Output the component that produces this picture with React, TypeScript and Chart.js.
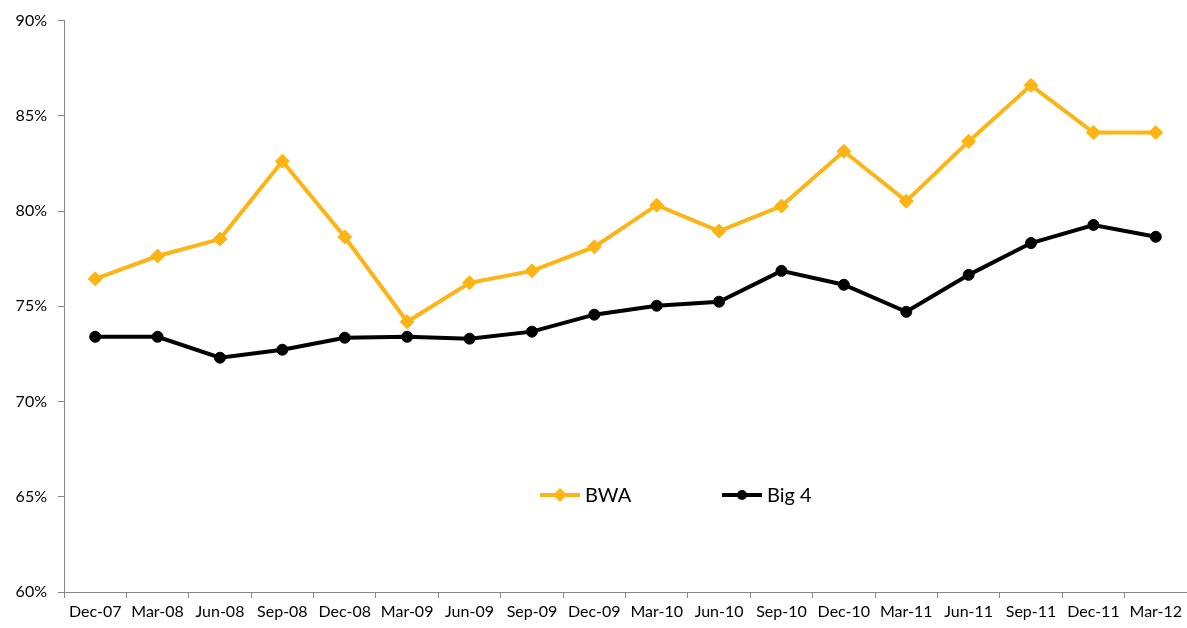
import React, { useEffect, useRef } from "react";
import { Chart, registerables } from "chart.js";

Chart.register(...registerables);

const categories = [
  "Dec-07", "Mar-08", "Jun-08", "Sep-08", "Dec-08", "Mar-09", "Jun-09", "Sep-09", "Dec-09",
  "Mar-10", "Jun-10", "Sep-10", "Dec-10", "Mar-11", "Jun-11", "Sep-11", "Dec-11", "Mar-12",
];
const bwaValues = [
  76.44, 77.64, 78.53, 82.62, 78.64, 74.19, 76.23, 76.86, 78.12,
  80.31, 78.95, 80.26, 83.14, 80.52, 83.66, 86.6, 84.12, 84.12,
];
const big4Values = [
  73.4, 73.4, 72.3, 72.72, 73.35, 73.4, 73.3, 73.67, 74.56,
  75.03, 75.24, 76.86, 76.13, 74.71, 76.65, 78.32, 79.27, 78.65,
];
const seriesNames = ["BWA", "Big 4"];

const ORANGE = "#FDB414";
const BLACK = "#000000";
const AXIS = "#868686";
const FONT = "Lato, 'Open Sans', sans-serif";

const legendPlugin = {
  id: "insideLegend",
  afterDraw(chart: any) {
    const ctx = chart.ctx;
    const y = 495;
    const items = [
      { x: 540, color: ORANGE, style: "rectRot", r: 7, label: seriesNames[0] },
      { x: 722, color: BLACK, style: "circle", r: 5, label: seriesNames[1] },
    ];
    ctx.save();
    for (const it of items) {
      ctx.strokeStyle = it.color;
      ctx.lineWidth = 4;
      ctx.beginPath();
      ctx.moveTo(it.x, y);
      ctx.lineTo(it.x + 40, y);
      ctx.stroke();
      ctx.fillStyle = it.color;
      ctx.beginPath();
      if (it.style === "circle") {
        ctx.arc(it.x + 20, y, it.r, 0, Math.PI * 2);
      } else {
        ctx.moveTo(it.x + 20, y - it.r);
        ctx.lineTo(it.x + 20 + it.r, y);
        ctx.lineTo(it.x + 20, y + it.r);
        ctx.lineTo(it.x + 20 - it.r, y);
        ctx.closePath();
      }
      ctx.fill();
      ctx.fillStyle = "#000";
      ctx.font = "20px " + FONT;
      ctx.textAlign = "left";
      ctx.textBaseline = "middle";
      ctx.fillText(it.label, it.x + 45, y + 1);
    }
    ctx.restore();
  },
};

export default function App() {
  const ref = useRef<HTMLCanvasElement | null>(null);
  useEffect(() => {
    if (!ref.current) return;
    const chart = new Chart(ref.current, {
      type: "line",
      data: {
        labels: categories,
        datasets: [
          {
            label: seriesNames[0],
            data: bwaValues,
            borderColor: ORANGE,
            backgroundColor: ORANGE,
            borderWidth: 4,
            pointStyle: "rectRot",
            pointRadius: 7,
            pointBorderWidth: 1,
            pointBackgroundColor: ORANGE,
            pointBorderColor: ORANGE,
            tension: 0,
          },
          {
            label: seriesNames[1],
            data: big4Values,
            borderColor: BLACK,
            backgroundColor: BLACK,
            borderWidth: 4,
            pointStyle: "circle",
            pointRadius: 5.5,
            pointBorderWidth: 1,
            pointBackgroundColor: BLACK,
            pointBorderColor: BLACK,
            tension: 0,
          },
        ],
      },
      options: {
        animation: false,
        responsive: false,
        layout: { autoPadding: false, padding: { top: 20, right: 0, left: 0, bottom: 0 } },
        plugins: { legend: { display: false }, tooltip: { enabled: false } },
        scales: {
          x: {
            offset: true,
            grid: {
              offset: true,
              drawOnChartArea: false,
              drawTicks: true,
              tickLength: 6,
              color: AXIS,
            },
            border: { display: true, color: AXIS, width: 1 },
            ticks: {
              color: "#000",
              font: { family: FONT, size: 16 },
              padding: 4,
              maxRotation: 0,
              autoSkip: false,
            },
            afterFit(scale: any) {
              scale.height = 36;
              scale.paddingRight = 0;
              scale.paddingLeft = 0;
            },
          },
          y: {
            min: 60,
            max: 90,
            grid: {
              drawOnChartArea: false,
              drawTicks: true,
              tickLength: 6,
              color: AXIS,
            },
            border: { display: true, color: AXIS, width: 1 },
            ticks: {
              stepSize: 5,
              color: "#000",
              font: { family: FONT, size: 16 },
              padding: 11,
              callback: (v: any) => v + "%",
            },
            afterFit(scale: any) {
              scale.width = 64;
            },
          },
        },
      },
      plugins: [legendPlugin],
    });
    return () => chart.destroy();
  }, []);
  return (
    <div style={{ position: "fixed", left: 0, top: 0, width: 1187, height: 628, background: "#fff" }}>
      <canvas ref={ref} width={1187} height={628} />
    </div>
  );
}
